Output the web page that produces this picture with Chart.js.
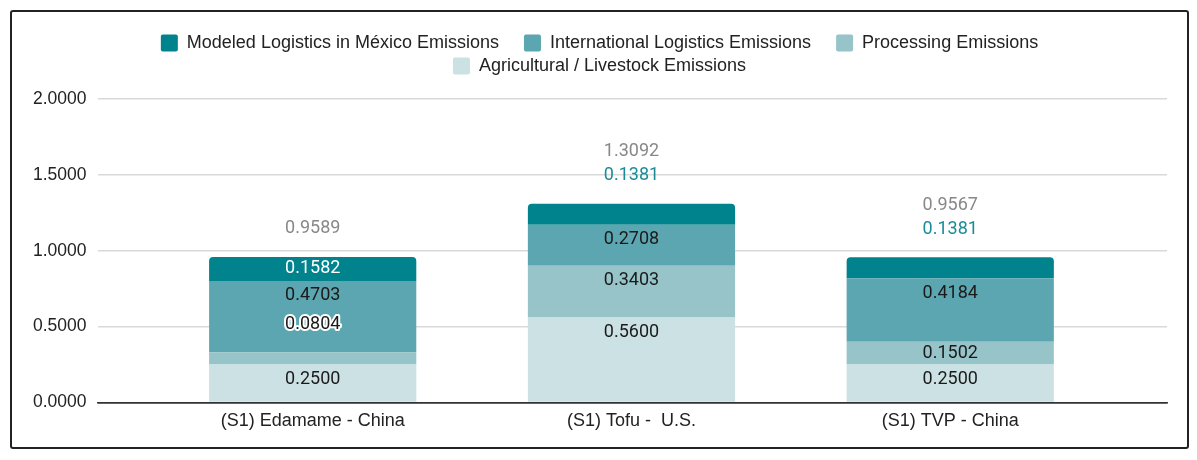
<!DOCTYPE html>
<html lang="en">
<head>
<meta charset="UTF-8">
<title>Emissions by product</title>
<script src="https://cdn.jsdelivr.net/npm/chart.js"></script>
<style>
  html, body { margin: 0; padding: 0; background: #fff; }
  .frame { position: absolute; left: 10px; top: 10px; width: 1175px; height: 435px; border: 2px solid #222; border-radius: 3px; }
  canvas { display: block; }
</style>
</head>
<body>
<div class="frame"><canvas id="chart"></canvas></div>
<script>
const categories = ['(S1) Edamame - China', '(S1) Tofu -  U.S.', '(S1) TVP - China'];
const agricultural = [0.25, 0.56, 0.25];
const processing = [0.0804, 0.3403, 0.1502];
const international = [0.4703, 0.2708, 0.4184];
const modeled = [0.1582, 0.1381, 0.1381];
const yTicks = [0, 0.5, 1, 1.5, 2];

Chart.defaults.font.family = '"Liberation Sans", Arial, sans-serif';
Chart.defaults.color = '#222';

const textFont = { family: '"Liberation Sans", Arial, sans-serif', size: 18 };

// bars sit on a linear x scale so the category spacing can be narrower than the grid
const toPoints = vals => vals.map((v, i) => ({ x: i, y: v }));

// legend: a bit more room below it, and centred over the whole frame
const legendTweak = {
  id: 'legendTweak',
  afterInit(chart) {
    const fit = chart.legend.fit;
    chart.legend.fit = function () {
      fit.call(this);
      this.height += 14;
    };
  },
  afterLayout(chart) {
    chart.legend.left += 15;
    chart.legend.right += 15;
  }
};

const barLabels = {
  id: 'barLabels',
  afterDatasetsDraw(chart) {
    const ctx = chart.ctx;
    const sets = chart.data.datasets;
    const last = sets.length - 1;
    ctx.save();
    ctx.font = '18px Roboto, "Liberation Sans", sans-serif';
    ctx.textAlign = 'center';
    ctx.textBaseline = 'middle';
    sets.forEach((ds, d) => {
      chart.getDatasetMeta(d).data.forEach((bar, i) => {
        const text = ds.data[i].y.toFixed(4);
        const top = Math.min(bar.y, bar.base);
        const h = Math.abs(bar.base - bar.y);
        if (h >= 22) {
          ctx.fillStyle = d === last ? '#fff' : '#1a1a1a';
          ctx.fillText(text, bar.x, top + Math.min(15, h / 2));
        } else if (d === last) {
          ctx.fillStyle = '#1a8c98';
          ctx.fillText(text, bar.x, top - 28);
        } else {
          ctx.lineWidth = 4;
          ctx.lineJoin = 'round';
          ctx.strokeStyle = '#fff';
          ctx.strokeText(text, bar.x, top - 27.5);
          ctx.fillStyle = '#1a1a1a';
          ctx.fillText(text, bar.x, top - 27.5);
        }
      });
    });
    // totals above each stack
    chart.getDatasetMeta(last).data.forEach((bar, i) => {
      const total = sets.reduce((s, ds) => s + ds.data[i].y, 0);
      const h = Math.abs(bar.base - bar.y);
      const lift = h >= 22 ? 28 : 52;
      ctx.fillStyle = '#888';
      ctx.fillText(total.toFixed(4), bar.x, bar.y - lift);
    });
    ctx.restore();
  }
};

new Chart(document.getElementById('chart'), {
  type: 'bar',
  data: {
    datasets: [
      { label: 'Agricultural / Livestock Emissions', data: toPoints(agricultural), backgroundColor: '#cce1e4' },
      { label: 'Processing Emissions', data: toPoints(processing), backgroundColor: '#96c4c9' },
      { label: 'International Logistics Emissions', data: toPoints(international), backgroundColor: '#5ba6b0' },
      { label: 'Modeled Logistics in México Emissions', data: toPoints(modeled), backgroundColor: '#00838c', borderRadius: 4 }
    ]
  },
  options: {
    responsive: true,
    maintainAspectRatio: false,
    animation: false,
    layout: { padding: { top: 17, left: 10, right: 20, bottom: 8 } },
    datasets: { bar: { categoryPercentage: 1, barPercentage: 0.65 } },
    plugins: {
      legend: {
        position: 'top',
        reverse: true,
        labels: {
          boxWidth: 17,
          boxHeight: 17,
          padding: 5,
          useBorderRadius: true,
          borderRadius: 2,
          color: '#222',
          font: textFont,
          generateLabels: chart => Chart.defaults.plugins.legend.labels.generateLabels(chart)
            .map(item => Object.assign(item, { text: item.text + '    ' }))
        }
      },
      tooltip: { enabled: false }
    },
    scales: {
      x: {
        type: 'linear',
        stacked: true,
        offset: false,
        min: -0.675,
        max: 2.68,
        afterBuildTicks: s => { s.ticks = categories.map((c, i) => ({ value: i })); },
        ticks: { callback: v => categories[v], padding: 7.5, color: '#222', font: textFont, autoSkip: false, maxRotation: 0 },
        grid: { display: false, drawTicks: false },
        border: { display: true, color: '#333', width: 1.5 }
      },
      y: {
        stacked: true,
        min: 0,
        max: 2,
        afterBuildTicks: s => { s.ticks = yTicks.map(v => ({ value: v })); },
        ticks: { callback: v => v.toFixed(4), padding: 11, color: '#222', font: { family: textFont.family, size: 17.5 } },
        grid: { color: c => c.tick && c.tick.value === 0 ? '#333' : '#d9d9d9', lineWidth: 1.5, drawTicks: false },
        border: { display: false }
      }
    }
  },
  plugins: [legendTweak, barLabels]
});
</script>
</body>
</html>
